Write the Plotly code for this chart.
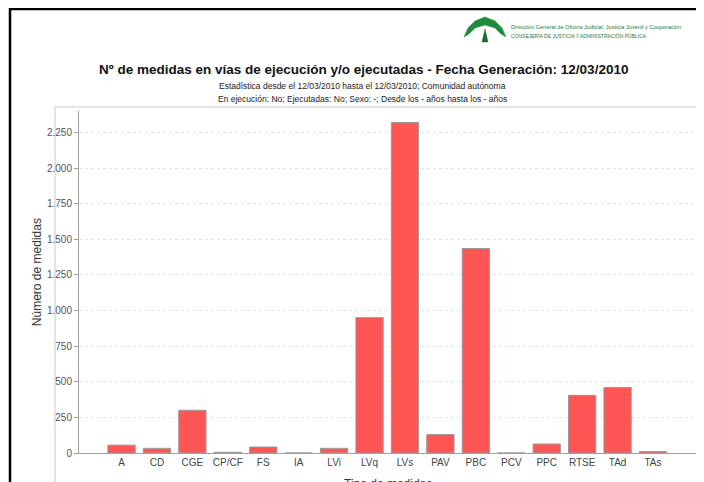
import plotly.graph_objects as go

categories = ["A", "CD", "CGE", "CP/CF", "FS", "IA", "LVi", "LVq", "LVs",
              "PAV", "PBC", "PCV", "PPC", "RTSE", "TAd", "TAs"]
values = [55, 33, 300, 5, 42, 0, 33, 950, 2320, 129, 1435, 0, 63, 405, 460, 10]

title = "Nº de medidas en vías de ejecución y/o ejecutadas - Fecha Generación: 12/03/2010"
subtitle1 = "Estadística desde el 12/03/2010 hasta el 12/03/2010; Comunidad autónoma"
subtitle2 = "En ejecución: No; Ejecutadas: No; Sexo: -; Desde los - años hasta los - años"
y_title = "Número de medidas"
x_title = "Tipo de medidas"
logo_line1 = "Dirección General de Oficina Judicial, Justicia Juvenil y Cooperación"
logo_line2 = "CONSEJERÍA DE JUSTICIA Y ADMINISTRACIÓN PÚBLICA"

# page offset (default body margin) compensation
OX, OY = 8, 8
W, H = 704 - OX, 482 - OY
L, R = 79, 698          # screen px of plot area
T, B = 111, 452.7


def px(x):
    return (x - L) / (R - L)


def py(y):
    return (B - y) / (B - T)


fig = go.Figure()
fig.add_trace(go.Bar(
    x=categories, y=values, width=0.77,
    marker=dict(color="#FF5555", line=dict(color="#9a9a9a", width=1)),
))

shapes = [
    dict(type="rect", xref="paper", yref="paper", x0=px(55), x1=px(698), y0=py(520), y1=py(107),
         line=dict(color="#dcdcdc", width=1.5), fillcolor="rgba(0,0,0,0)", layer="below"),
    dict(type="line", xref="paper", yref="paper", x0=px(9), x1=px(710), y0=py(9), y1=py(9),
         line=dict(color="black", width=2.5)),
    dict(type="line", xref="paper", yref="paper", x0=px(10), x1=px(10), y0=py(8), y1=py(490),
         line=dict(color="black", width=2.5)),
]


def path_from(points):
    return "M " + " L ".join(f"{px(a):.5f},{py(b):.5f}" for a, b in points) + " Z"


arch = [(464, 37), (468, 28), (475, 21), (485, 17), (495, 21), (502, 28), (506, 37),
        (501, 34), (495, 28), (485, 25), (475, 28), (469, 34)]
shapes.append(dict(type="path", xref="paper", yref="paper", path=path_from(arch),
                   fillcolor="#1e8a3c", line=dict(color="#1e8a3c", width=0.5)))
stem = [(485, 29), (488, 42), (482, 42)]
shapes.append(dict(type="path", xref="paper", yref="paper", path=path_from(stem),
                   fillcolor="#1e6b30", line=dict(color="#1e6b30", width=0.5)))

annotations = [
    dict(text="<b>" + title + "</b>", x=px(363), y=py(70), xref="paper", yref="paper", showarrow=False,
         font=dict(family="Liberation Sans, Arial", size=13.5, color="#111"), xanchor="center", yanchor="middle"),
    dict(text=subtitle1, x=px(362), y=py(86), xref="paper", yref="paper", showarrow=False,
         font=dict(family="Liberation Sans, Arial", size=8.5, color="#222"),
         xanchor="center", yanchor="middle"),
    dict(text=subtitle2, x=px(362), y=py(99), xref="paper", yref="paper", showarrow=False,
         font=dict(family="Liberation Sans, Arial", size=8.5, color="#222"),
         xanchor="center", yanchor="middle"),
    dict(text=y_title, x=px(37), y=py(272), xref="paper", yref="paper", showarrow=False, textangle=-90,
         font=dict(family="Liberation Sans, Arial", size=12, color="#333"), xanchor="center", yanchor="middle"),
    dict(text=x_title, x=px(388), y=py(475), xref="paper", yref="paper", showarrow=False,
         font=dict(family="Liberation Sans, Arial", size=12, color="#333"), xanchor="center", yanchor="top"),
    dict(text=logo_line1, x=px(509), y=py(27), xref="paper", yref="paper", showarrow=False,
         font=dict(family="Liberation Sans, Arial", size=5.6, color="#2a7a3a"),
         xanchor="left", yanchor="middle"),
    dict(text=logo_line2, x=px(509), y=py(36), xref="paper", yref="paper", showarrow=False,
         font=dict(family="Liberation Sans, Arial", size=5, color="#2a7a3a"),
         xanchor="left", yanchor="middle"),
]

fig.update_layout(
    width=W, height=H,
    margin=dict(l=L - OX, r=704 - R, t=T - OY, b=482 - B),
    paper_bgcolor="white", plot_bgcolor="white",
    separators=",.",
    showlegend=False,
    shapes=shapes,
    annotations=annotations,
    font=dict(family="Liberation Sans, Arial"),
)
fig.update_xaxes(
    type="category", range=[-1.2, 16.27], showgrid=False, showline=True,
    linecolor="#a0a0a0", linewidth=1, ticks="", tickfont=dict(size=10, color="#444"),
    zeroline=False, fixedrange=True,
)
fig.update_yaxes(
    range=[0, 2400], tickvals=[0, 250, 500, 750, 1000, 1250, 1500, 1750, 2000, 2250],
    tickformat=",d", showgrid=True, gridcolor="#e3e3e3", griddash="dot", gridwidth=1,
    showline=True, linecolor="#a0a0a0", linewidth=1, ticks="outside", ticklen=4,
    tickcolor="#a0a0a0", tickfont=dict(size=10, color="#555"), zeroline=False,
)

fig.write_html("out.html")
